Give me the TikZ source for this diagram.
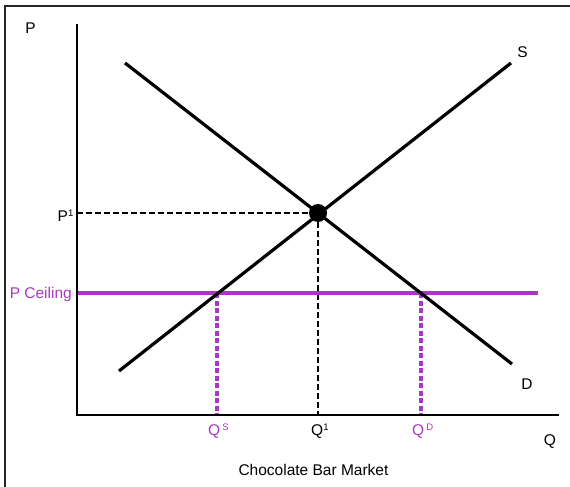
\documentclass[tikz,border=0pt]{standalone}
\usepackage{fontspec}
\setmainfont{Liberation Sans}
\definecolor{ceilcol}{RGB}{170,55,195}
\newcommand{\sups}[1]{\raisebox{4.3pt}{\fontsize{9.5}{9.5}\selectfont #1}}
\begin{document}
\begin{tikzpicture}[x=1pt,y=-1pt,
  frame/.style={line width=1.5pt, black!85},
  axis/.style={line width=2.7pt, line join=miter},
  curve/.style={line width=3.2pt},
  guide/.style={line width=1.8pt, dash pattern=on 6pt off 3pt},
  ceil/.style={ceilcol, line width=3.2pt},
  ceildash/.style={ceilcol, line width=3.2pt, dash pattern=on 5pt off 2.5pt},
  dot/.style={circle, fill=black, minimum size=18pt, inner sep=0pt},
  lbl/.style={font=\fontsize{15.5}{18}\selectfont, inner sep=0pt}]
\useasboundingbox (0,0) rectangle (570,487);
% frame
\coordinate (f1) at (5,487);
\coordinate (f2) at (5,6);
\coordinate (f3) at (570,6);
\draw[frame] (f1) -- (f2) -- (f3);
% key points
\coordinate (O) at (77,415);
\coordinate (ytop) at (77,24);
\coordinate (xend) at (559,415);
\coordinate (d1) at (125,63);
\coordinate (d2) at (512,364);
\coordinate (s1) at (119,371);
\coordinate (s2) at (511,63);
\node[dot] (E) at (318,213) {};
\coordinate (p1) at (77,213);
\coordinate (q1) at (318,415);
\coordinate (c1) at (77,293);
\coordinate (c2) at (538,293);
\coordinate (qst) at (217,293);
\coordinate (qsb) at (217,415);
\coordinate (qdt) at (421,293);
\coordinate (qdb) at (421,415);
% guides
\draw[guide] (p1) -- (E);
\draw[guide] (E) -- (q1);
% ceiling
\draw[ceil] (c1) -- (c2);
\draw[ceildash] (qst) -- (qsb);
\draw[ceildash] (qdt) -- (qdb);
% curves
\draw[curve] (d1) -- (d2);
\draw[curve] (s1) -- (s2);
% axes
\draw[axis] (ytop) -- (O) -- (xend);
% labels
\node[lbl] (P) at (30.5,28.5) {P};
\node[lbl] (Qax) at (550,442) {Q};
\node[lbl] (S) at (522.5,52.5) {S};
\node[lbl] (D) at (527,384) {D};
\node[lbl, anchor=base east] (P1) at (73.5,221) {P\sups{1}};
\node[lbl, anchor=base east, text=ceilcol] (PC) at (72,298) {P Ceiling};
\node[lbl, anchor=base west, text=ceilcol] (QS) at (208,435) {Q\hspace{2pt}\sups{S}};
\node[lbl, anchor=base west] (Q1) at (311,435) {Q\sups{1}};
\node[lbl, anchor=base west, text=ceilcol] (QD) at (412,435) {Q\hspace{2pt}\sups{D}};
\node[lbl, anchor=base] (T) at (313.5,475) {Chocolate Bar Market};
\end{tikzpicture}
\end{document}
